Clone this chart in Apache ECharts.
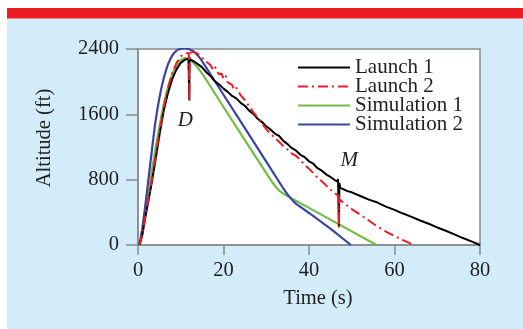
<!DOCTYPE html>
<html><head><meta charset="utf-8">
<script src="https://cdn.jsdelivr.net/npm/echarts@6/dist/echarts.min.js"></script>
<style>html,body{margin:0;padding:0;background:#fff}#c{width:523px;height:329px}</style>
</head><body><div id="c"></div>
<script>
const xTicks = [0, 20, 40, 60, 80];
const yTicks = [0, 800, 1600, 2400];
const seriesNames = ['Launch 1', 'Launch 2', 'Simulation 1', 'Simulation 2'];

// [time (s), altitude (ft)]
const launch1 = [[0.3,0],[1,120],[2,420],[3,700],[4,1010],[5,1340],[6,1640],[7,1860],[8,2030],[9,2150],[10,2230],[11,2270],
  [11.8,2282],[11.95,2280],[12.0,1770],[12.05,2275],[12.3,2270],
  [13,2250],[14,2215],[15,2175],[16,2115],[17,2065],[18,2005],[19,1965],[20,1915],[21,1875],[22,1825],[23,1795],[24,1740],
  [25,1705],[26,1645],[27,1605],[28,1545],[29,1505],[30,1455],[31,1415],[32,1365],[33,1335],[34,1275],[35,1235],[36,1185],
  [37,1155],[38,1105],[39,1075],[40,1025],[41,995],[42,940],[43,910],[44,865],[45,835],[46,795],
  [46.6,780],[46.8,805],[46.95,785],[47.0,225],[47.1,760],[47.3,700],[48,685],[49,660],[50,645],
  [52,600],[54,555],[56,520],[58,470],[60,430],[62,385],[64,345],[66,300],[68,260],[70,215],[72,175],[74,130],[76,85],[78,45],[80,0]];

const launch2 = [[0.3,0],[1,130],[2,440],[3,730],[4,1050],[5,1380],[6,1680],[7,1920],[8,2100],[9,2230],[10,2310],[11,2345],
  [11.9,2352],[12.0,1760],[12.1,2352],[13,2365],[14,2340],[15,2290],[16,2245],[17,2200],[17.5,2150],[18,2185],[18.5,2120],
  [19,2090],[19.5,2100],[20,2040],[20.5,2075],[21,1990],[22,1960],[22.5,1900],[23,1925],[24,1835],[25,1775],[26,1700],
  [27,1625],[28,1560],[29,1485],[30,1420],[31,1360],[32,1315],[33,1265],[34,1210],[35,1170],[36,1120],[37,1090],[38,1040],
  [39,980],[40,935],[41,880],[42,825],[43,780],[44,730],[45,680],[46,635],[46.95,600],[47.0,210],[47.1,560],[48,520],
  [50,440],[52,370],[54,300],[56,225],[58,165],[60,110],[62,60],[64.5,0]];

const simulation1 = [[0.4,0],[0.7,60],[1,150],[1.5,310],[2,480],[2.5,650],[3,820],[3.5,990],[4,1150],[4.5,1305],[5,1450],
  [5.5,1590],[6,1720],[6.5,1830],[7,1930],[7.5,2015],[8,2090],[8.5,2150],[9,2200],[9.5,2238],[10,2265],[10.5,2280],[11,2288],
  [11.5,2286],[12,2275],[12.5,2255],[13,2230],[13.5,2202],[14,2170],[14.5,2136],[15,2100],[16,2020],[20,1690],[25,1285],
  [30,880],[31,800],[31.5,762],[32,726],[32.5,694],[33,668],[33.5,648],[34,630],[35,598],[40,455],[45,311],[50,167],[55.8,0]];

const simulation2 = [[0.3,0],[0.6,80],[1,200],[1.5,400],[2,610],[2.5,830],[3,1050],[3.5,1270],[4,1480],[4.5,1650],[5,1800],
  [5.5,1930],[6,2040],[6.5,2130],[7,2210],[7.5,2270],[8,2320],[8.5,2355],[9,2380],[9.5,2395],[10,2402],[10.5,2407],[11,2408],
  [11.5,2405],[12,2398],[12.5,2386],[13,2370],[13.5,2348],[14,2320],[14.5,2288],[15,2250],[16,2170],[20,1840],[25,1430],
  [30,1020],[34,692],[34.5,653],[35,618],[35.5,586],[36,556],[36.5,528],[37,504],[37.5,484],[38,466],[40,392],[45,200],[49.8,0]];

const annotations = [{name: 'D', coord: [11.1, 1530]}, {name: 'M', coord: [49.4, 1030]}];

const FONT = "'Liberation Serif', 'Times New Roman', serif";
const TXT = '#231f20';
const AX = '#8a8a8a';

const chart = echarts.init(document.getElementById('c'), null, {renderer: 'canvas'});
chart.setOption({
  animation: false,
  backgroundColor: '#ffffff',
  textStyle: {fontFamily: FONT},
  graphic: {elements: [
    {type: 'rect', z: -10, shape: {x: 7, y: 18.5, width: 516, height: 311}, style: {fill: '#d2edf9'}},
    {type: 'rect', z: -10, shape: {x: 7, y: 8, width: 516, height: 10.5}, style: {fill: '#ed1c24'}}
  ]},
  grid: {left: 138, right: 43, top: 49, bottom: 84, show: true, backgroundColor: '#ffffff', borderColor: AX, borderWidth: 1.5},
  legend: {
    data: seriesNames, orient: 'vertical', left: 292, top: 52, itemWidth: 52, itemHeight: 14, itemGap: -2,
    selectedMode: false,
    itemStyle: {opacity: 0, color: 'rgba(0,0,0,0)', borderWidth: 0},
    textStyle: {fontFamily: FONT, fontSize: 21, lineHeight: 21, color: TXT}
  },
  xAxis: {
    type: 'value', min: 0, max: 80, interval: 20,
    name: 'Time (s)', nameLocation: 'middle', nameGap: 43,
    nameTextStyle: {fontFamily: FONT, fontSize: 20.5, color: TXT, padding: [0, 0, 0, 18]},
    axisLine: {show: true, lineStyle: {color: AX, width: 1.5}},
    axisTick: {show: true, length: 10, lineStyle: {color: AX, width: 1.5}, customValues: xTicks},
    axisLabel: {fontFamily: FONT, fontSize: 20.5, color: TXT, margin: 15, customValues: xTicks, formatter: v => String(v)},
    splitLine: {show: false}
  },
  yAxis: {
    type: 'value', min: 0, max: 2400, interval: 800,
    name: 'Altitude (ft)', nameLocation: 'middle', nameGap: 83,
    nameTextStyle: {fontFamily: FONT, fontSize: 20.5, color: TXT, padding: [0, 0, 0, 18]},
    axisLine: {show: true, lineStyle: {color: AX, width: 1.5}},
    axisTick: {show: true, length: 12, lineStyle: {color: AX, width: 1.5}, customValues: yTicks},
    axisLabel: {fontFamily: FONT, fontSize: 20.5, color: TXT, margin: 19, customValues: yTicks, formatter: v => String(v)},
    splitLine: {show: false}
  },
  series: [
    {name: 'Simulation 1', type: 'line', data: simulation1, symbol: 'none',
      lineStyle: {color: '#6fbe44', width: 2.2}, itemStyle: {color: '#6fbe44'}, z: 2},
    {name: 'Simulation 2', type: 'line', data: simulation2, symbol: 'none',
      lineStyle: {color: '#3b44a4', width: 2.2}, itemStyle: {color: '#3b44a4'}, z: 3},
    {name: 'Launch 1', type: 'line', data: launch1, symbol: 'none',
      lineStyle: {color: '#000000', width: 2}, itemStyle: {color: '#000000'}, z: 4,
      markPoint: {
        symbol: 'circle', symbolSize: 1, itemStyle: {color: 'rgba(0,0,0,0)'},
        label: {show: true, position: 'inside', formatter: '{b}', fontFamily: FONT, fontStyle: 'italic', fontSize: 21, color: TXT},
        data: annotations
      }},
    {name: 'Launch 2', type: 'line', data: launch2, symbol: 'none',
      lineStyle: {color: '#ed1c24', width: 2, type: [10, 4, 2, 4]}, itemStyle: {color: '#ed1c24'}, z: 5}
  ]
});
</script>
</body></html>
